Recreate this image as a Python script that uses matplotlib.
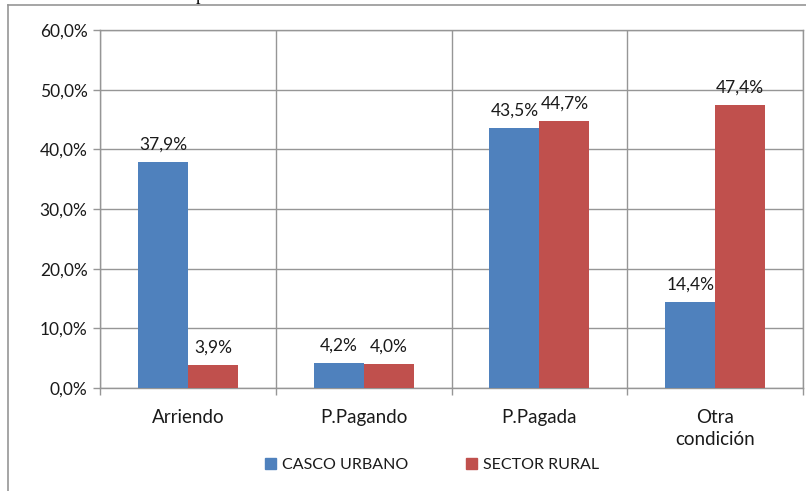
import numpy as np
import matplotlib.pyplot as plt
from matplotlib.ticker import FuncFormatter, FixedLocator
from matplotlib.patches import Patch

categorias = ["Arriendo", "P.Pagando", "P.Pagada", "Otra\ncondición"]
casco_urbano = [37.9, 4.2, 43.5, 14.4]
sector_rural = [3.9, 4.0, 44.7, 47.4]
series = ["CASCO URBANO", "SECTOR RURAL"]

azul = "#4F81BD"
rojo = "#C0504D"
gris = "#969696"

plt.rcParams['font.family'] = ['Lato', 'DejaVu Sans']

fig = plt.figure(figsize=(8.06, 4.91), dpi=100)
ax = fig.add_axes([100 / 806, 1 - 388 / 491, 703 / 806, 358 / 491])

x = np.arange(len(categorias))
w = 50 / 175.75

b1 = ax.bar(x - w / 2, casco_urbano, w, color=azul, zorder=3)
b2 = ax.bar(x + w / 2, sector_rural, w, color=rojo, zorder=3)

def fmt(v):
    return f"{v:.1f}".replace(".", ",") + "%"

for bars, vals in ((b1, casco_urbano), (b2, sector_rural)):
    for b, v in zip(bars, vals):
        ax.text(b.get_x() + b.get_width() / 2, v + 2.1, fmt(v),
                ha="center", va="baseline", fontsize=12.5, color="#1a1a1a")

ax.set_xlim(-0.5, len(categorias) - 0.5)
ax.set_ylim(0, 60)
ax.set_yticks(np.arange(0, 61, 10))
ax.yaxis.set_major_formatter(FuncFormatter(lambda v, p: fmt(v)))

# marcas en los límites de categoría, etiquetas al centro
ax.set_xticks(x)
ax.set_xticklabels(categorias)
ax.xaxis.set_minor_locator(FixedLocator(np.arange(-0.5, len(categorias), 1.0)))
ax.tick_params(axis="x", which="major", length=0, pad=15, labelsize=13.5)
ax.tick_params(axis="x", which="minor", length=5, color=gris, width=1)
ax.tick_params(axis="y", length=5, color=gris, width=1, labelsize=12.5, pad=4)
for lab in ax.get_xticklabels():
    lab.set_multialignment("center")
    lab.set_linespacing(1.4)
for lab in ax.get_xticklabels() + ax.get_yticklabels():
    lab.set_color("#1a1a1a")

ax.grid(axis="x", which="minor", color=gris, lw=1, zorder=0)
ax.grid(axis="y", which="major", color=gris, lw=1, zorder=0)
for s in ax.spines.values():
    s.set_color(gris)
    s.set_linewidth(1)

handles = [Patch(color=azul), Patch(color=rojo)]
fig.legend(handles, series, loc="center", bbox_to_anchor=(432 / 806, 1 - 465 / 491),
           ncol=2, frameon=False, fontsize=11.5, handlelength=0.7, handleheight=0.7,
           handletextpad=0.35, columnspacing=3.6, labelcolor="#1a1a1a")

# marco exterior del gráfico y resto del título cortado
fig.add_artist(plt.Line2D([8 / 806, 8 / 806], [0, 1 - 5 / 491], transform=fig.transFigure, color=gris, lw=1.2))
fig.add_artist(plt.Line2D([8 / 806, 1], [1 - 5 / 491, 1 - 5 / 491], transform=fig.transFigure, color=gris, lw=1.2))
fig.text(200 / 806, 1.0, "p", family="Liberation Serif", fontsize=13, ha="center", va="baseline")

fig.savefig("out.png", dpi=100)
